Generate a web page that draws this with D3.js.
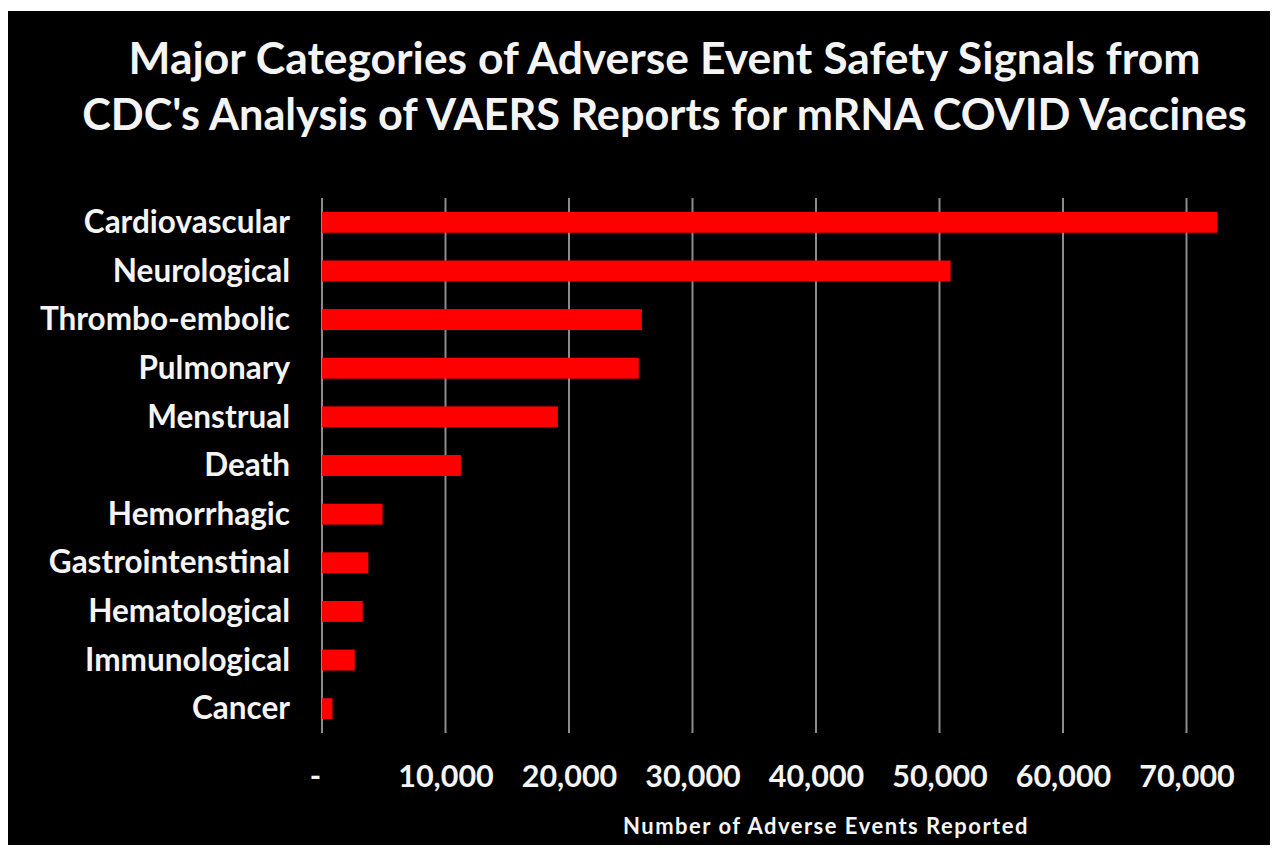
<!DOCTYPE html>
<html>
<head>
<meta charset="utf-8">
<script src="https://cdn.jsdelivr.net/npm/d3@7"></script>
<style>
  html, body { margin: 0; padding: 0; background: #ffffff; }
  svg { display: block; }
  text { font-family: Lato, "Open Sans", sans-serif; font-weight: bold; fill: #f4f4f4; }
</style>
</head>
<body>
<svg id="chart" width="1280" height="852"></svg>
<script>
// ---- data ----
const categories = ["Cardiovascular", "Neurological", "Thrombo-embolic", "Pulmonary", "Menstrual",
  "Death", "Hemorrhagic", "Gastrointenstinal", "Hematological", "Immunological", "Cancer"];
const values = [72500, 50900, 25900, 25650, 19100, 11250, 4900, 3750, 3300, 2650, 850];
const tickValues = [0, 10000, 20000, 30000, 40000, 50000, 60000, 70000];
const titleLines = ["Major Categories of Adverse Event Safety Signals from",
  "CDC's Analysis of VAERS Reports for mRNA COVID Vaccines"];
const xAxisTitle = "Number of Adverse Events Reported";

// ---- layout ----
const svg = d3.select("#chart");
svg.append("rect").attr("x", 8).attr("y", 11).attr("width", 1262).attr("height", 834).attr("fill", "#000");

const x = d3.scaleLinear().domain([0, 70000]).range([322, 1186.5]);
const y = d3.scaleBand().domain(categories).range([198, 733]).paddingInner(0.57).paddingOuter(0.285);

// fit a text element's font size so it spans the target width
function fitWidth(sel, target) {
  sel.each(function () {
    const fs = parseFloat(d3.select(this).attr("font-size"));
    const len = this.getComputedTextLength();
    d3.select(this).attr("font-size", (fs * target / len).toFixed(2));
  });
}

// gridlines
svg.append("g").selectAll("line").data(tickValues).join("line")
  .attr("x1", d => x(d)).attr("x2", d => x(d))
  .attr("y1", 198).attr("y2", 733)
  .attr("stroke", "#8c8c8c").attr("stroke-width", 2);

// bars
svg.append("g").selectAll("rect").data(values).join("rect")
  .attr("x", x(0)).attr("y", (d, i) => y(categories[i]))
  .attr("width", d => x(d) - x(0)).attr("height", y.bandwidth())
  .attr("fill", "#ff0000");

// y axis labels
const yAxis = d3.axisLeft(y).tickSize(0).tickPadding(0);
const gy = svg.append("g").attr("transform", "translate(290,0)").call(yAxis);
gy.select(".domain").remove();
gy.selectAll("text").attr("font-size", 31.5).attr("font-family", null).attr("fill", "#f4f4f4").attr("dy", "0.34em");

// x axis labels
const fmt = d => d === 0 ? "-" : d3.format(",")(d);
const xAxis = d3.axisBottom(x).tickValues(tickValues).tickFormat(fmt).tickSize(0).tickPadding(0);
const gx = svg.append("g").attr("transform", "translate(0,765)").call(xAxis);
gx.select(".domain").remove();
gx.selectAll("text").attr("font-size", 30.5).attr("font-family", null).attr("fill", "#f4f4f4").attr("dy", "0.72em")
  .attr("dx", d => d === 0 ? -7 : 0);

// axis title
svg.append("text").attr("x", 826).attr("y", 834).attr("text-anchor", "middle")
  .attr("font-size", 22).attr("letter-spacing", 1.5).text(xAxisTitle);

// chart title
const titleWidths = [1072, 1165];
const tt = svg.append("g").selectAll("text").data(titleLines).join("text")
  .attr("x", 664.5).attr("y", (d, i) => i === 0 ? 74 : 130)
  .attr("text-anchor", "middle").attr("font-size", 41).text(d => d);
tt.each(function (d, i) { fitWidth(d3.select(this), titleWidths[i]); });
</script>
</body>
</html>
